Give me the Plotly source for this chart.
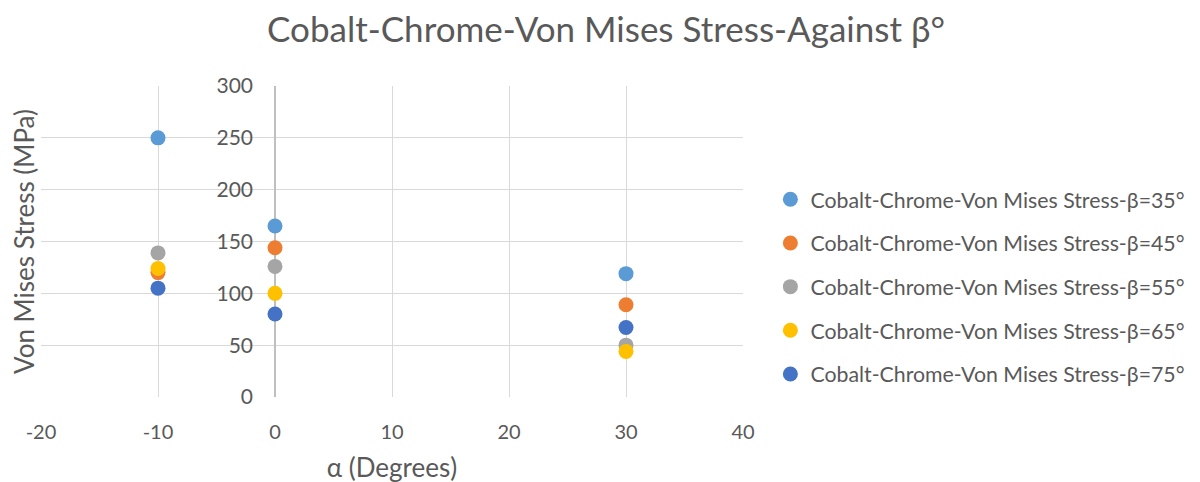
import plotly.graph_objects as go

# alpha angles (degrees) and von Mises stress (MPa) per beta angle
alpha = [-10, 0, 30]
beta_labels = ["35", "45", "55", "65", "75"]
stress_b35 = [250, 165, 119]
stress_b45 = [120, 144, 89]
stress_b55 = [139, 126, 50]
stress_b65 = [124, 100, 44]
stress_b75 = [105, 80, 67]

x_ticks = [-20, -10, 0, 10, 20, 30, 40]
x_ticktext = ["-20", "-10", "0", "10", "20", "30", "40"]

series = [stress_b35, stress_b45, stress_b55, stress_b65, stress_b75]
colors = ["#5B9BD5", "#ED7D31", "#A5A5A5", "#FFC000", "#4472C4"]

font = "Lato, 'Open Sans', sans-serif"
grey = "#595959"

fig = go.Figure()
for i, (b, ys, c) in enumerate(zip(beta_labels, series, colors)):
    fig.add_trace(go.Scatter(
        x=alpha, y=ys, mode="markers",
        name="Cobalt-Chrome-Von Mises Stress-β={}°".format(b),
        legendgroup=b,
        marker=dict(color=c, size=15),
        # last series goes on the overlaid axis that carries the tick labels at x=0
        yaxis="y2" if i == len(series) - 1 else "y",
    ))

fig.update_layout(
    width=1200, height=482,
    template="none",
    paper_bgcolor="white", plot_bgcolor="white",
    margin=dict(l=33, r=465, t=78, b=93, autoexpand=False),
    font=dict(family=font, color=grey, size=20),
    title=dict(text="Cobalt-Chrome-Von Mises Stress-Against β°",
               x=598/1200, xanchor="center", xref="container",
               y=1-22/482, yanchor="middle", yref="container",
               font=dict(size=35, color=grey)),
    showlegend=True,
    legend=dict(x=1.039, y=0.354, xanchor="left", yanchor="middle",
                traceorder="grouped", tracegroupgap=13,
                font=dict(size=21.3, color=grey), itemwidth=30),
    xaxis=dict(range=[-20, 40], tickvals=x_ticks, ticktext=x_ticktext,
               showgrid=True, gridcolor="#D9D9D9", gridwidth=1.3,
               zeroline=True, zerolinecolor="#BFBFBF", zerolinewidth=1.5,
               showline=False, ticks="", ticklabelstandoff=21,
               tickfont=dict(size=20, color=grey),
               title=dict(text="α (Degrees)", standoff=16,
                          font=dict(size=26, color=grey))),
    yaxis=dict(range=[0, 300], dtick=50,
               showgrid=True, gridcolor="#D9D9D9", gridwidth=1.3,
               zeroline=False, showline=False, ticks="",
               showticklabels=False,
               title=dict(text="Von Mises Stress (MPa)", standoff=0,
                          font=dict(size=26, color=grey))),
    yaxis2=dict(range=[0, 300], dtick=50, overlaying="y", matches="y",
                anchor="free", position=20/60, side="left",
                showgrid=False, zeroline=False, showline=False, ticks="",
                ticklabelstandoff=22,
                tickfont=dict(size=21, color=grey)),
)

fig.write_html("out.html")
